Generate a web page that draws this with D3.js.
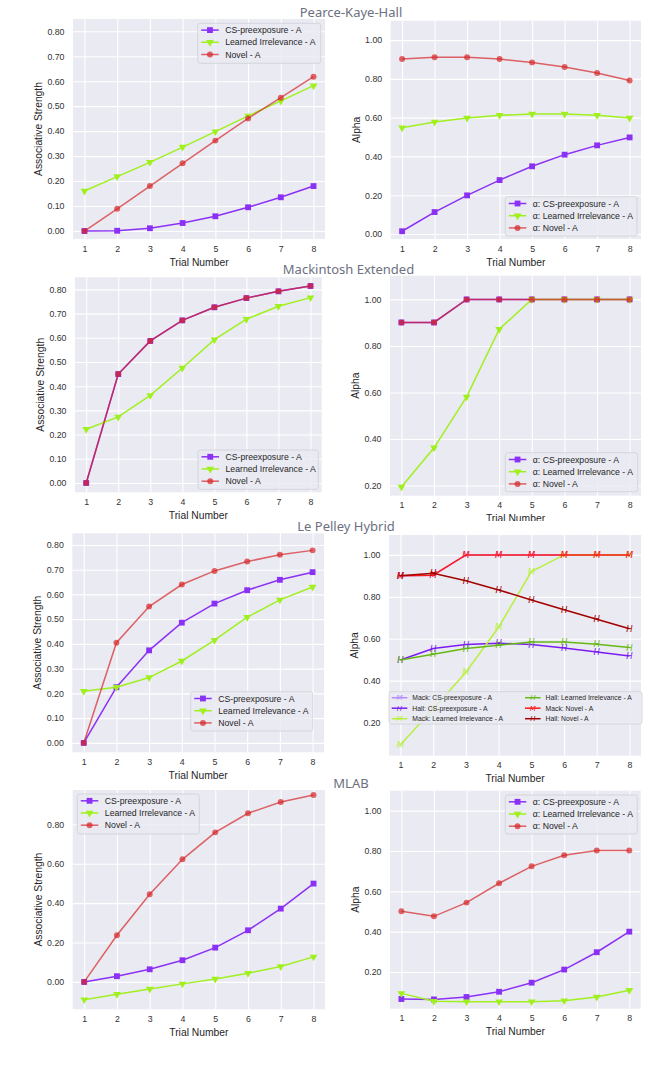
<!DOCTYPE html>
<html>
<head>
<meta charset="utf-8">
<script src="https://cdn.jsdelivr.net/npm/d3@7"></script>
<style>
  body { margin: 0; background: #fff; }
  svg text { font-family: "Liberation Sans", Arial, sans-serif; }
</style>
</head>
<body>
<svg id="chart" width="650" height="1068"></svg>
<script>
// trials on the x axis
const trials = [1, 2, 3, 4, 5, 6, 7, 8];
const groupNames = ["CS-preexposure - A", "Learned Irrelevance - A", "Novel - A"];
const alphaNames = groupNames.map(d => "α: " + d);

// tick labels
const strengthTicks = [0, 0.1, 0.2, 0.3, 0.4, 0.5, 0.6, 0.7, 0.8];
const strengthTicksWide = [0, 0.2, 0.4, 0.6, 0.8];
const alphaTicks = [0, 0.2, 0.4, 0.6, 0.8, 1.0];
const alphaTicksShort = [0.2, 0.4, 0.6, 0.8, 1.0];

// Pearce-Kaye-Hall
const pkhCs = [0, 0.001, 0.011, 0.032, 0.059, 0.095, 0.135, 0.18];
const pkhLi = [0.16, 0.218, 0.275, 0.336, 0.398, 0.461, 0.521, 0.582];
const pkhNovel = [0, 0.089, 0.18, 0.271, 0.362, 0.451, 0.534, 0.618];
const pkhAlphaCs = [0.014, 0.113, 0.199, 0.278, 0.349, 0.409, 0.457, 0.498];
const pkhAlphaLi = [0.548, 0.577, 0.598, 0.612, 0.619, 0.619, 0.612, 0.598];
const pkhAlphaNovel = [0.902, 0.911, 0.911, 0.902, 0.885, 0.861, 0.83, 0.792];

// Mackintosh Extended
const mackCs = [0, 0.45, 0.587, 0.672, 0.726, 0.764, 0.792, 0.814];
const mackLi = [0.222, 0.273, 0.362, 0.475, 0.592, 0.677, 0.73, 0.766];
const mackNovel = [0, 0.45, 0.587, 0.672, 0.726, 0.764, 0.792, 0.814];
const mackAlphaCs = [0.901, 0.901, 1, 1, 1, 1, 1, 1];
const mackAlphaLi = [0.193, 0.362, 0.581, 0.872, 1, 1, 1, 1];
const mackAlphaNovel = [0.901, 0.901, 1, 1, 1, 1, 1, 1];

// Le Pelley Hybrid
const lpCs = [0, 0.225, 0.374, 0.486, 0.563, 0.617, 0.659, 0.69];
const lpLi = [0.209, 0.225, 0.264, 0.331, 0.415, 0.508, 0.578, 0.63];
const lpNovel = [0, 0.405, 0.551, 0.64, 0.695, 0.733, 0.76, 0.778];
const lpMackCs = [0.9, 0.903, 1, 1, 1, 1, 1, 1];
const lpHallCs = [0.499, 0.553, 0.572, 0.579, 0.572, 0.556, 0.537, 0.518];
const lpMackLi = [0.094, 0.265, 0.44, 0.655, 0.92, 1, 1, 1];
const lpHallLi = [0.499, 0.526, 0.553, 0.569, 0.585, 0.584, 0.574, 0.558];
const lpMackNovel = [0.9, 0.903, 1, 1, 1, 1, 1, 1];
const lpHallNovel = [0.9, 0.913, 0.877, 0.833, 0.785, 0.738, 0.693, 0.648];
const lpAlphaNames = ["Mack: CS-preexposure - A", "Hall: CS-preexposure - A", "Mack: Learned Irrelevance - A",
                      "Hall: Learned Irrelevance - A", "Mack: Novel - A", "Hall: Novel - A"];

// MLAB
const mlabCs = [0, 0.029, 0.064, 0.11, 0.174, 0.262, 0.372, 0.499];
const mlabLi = [-0.09, -0.063, -0.036, -0.01, 0.015, 0.044, 0.078, 0.127];
const mlabNovel = [0, 0.237, 0.445, 0.622, 0.759, 0.856, 0.913, 0.949];
const mlabAlphaCs = [0.066, 0.064, 0.076, 0.102, 0.147, 0.212, 0.298, 0.4];
const mlabAlphaLi = [0.094, 0.055, 0.053, 0.053, 0.053, 0.058, 0.076, 0.109];
const mlabAlphaNovel = [0.501, 0.476, 0.544, 0.64, 0.724, 0.779, 0.803, 0.803];

const PURPLE = "#8b30f5", GREEN = "#a0f020", RED = "#d62728";

const svg = d3.select("#chart");

function three(vals, names) {
  return [
    { values: vals[0], name: names[0], color: PURPLE, marker: "square", op: 1 },
    { values: vals[1], name: names[1], color: GREEN, marker: "tri", op: 1 },
    { values: vals[2], name: names[2], color: RED, marker: "circle", op: 0.7 }
  ];
}

function drawMarker(g, type, cx, cy, color, op, fs) {
  if (type === "M" || type === "H") {
    g.append("text").attr("x", cx).attr("y", cy).attr("dy", "0.36em")
      .attr("text-anchor", "middle").attr("font-style", "italic")
      .style("font-family", "'DejaVu Sans', sans-serif").attr("font-size", fs || 8)
      .attr("fill", color).attr("fill-opacity", op).text(type);
    return;
  }
  let sym, size, rot = 0;
  if (type === "square") { sym = d3.symbolSquare; size = 34; }
  else if (type === "tri") { sym = d3.symbolTriangle; size = 26; rot = 180; }
  else { sym = d3.symbolCircle; size = 28; }
  g.append("path").attr("d", d3.symbol().type(sym).size(size)())
    .attr("transform", `translate(${cx},${cy}) rotate(${rot})`)
    .attr("fill", color).attr("fill-opacity", op);
}

function drawPanel(p) {
  const x = d3.scaleLinear().domain([0.65, 8.35]).range([p.left, p.right]);
  const y = d3.scaleLinear().domain(p.yDomain).range([p.bottom, p.top]);
  const g = svg.append("g");

  g.append("rect").attr("x", p.left).attr("y", p.top)
    .attr("width", p.right - p.left).attr("height", p.bottom - p.top).attr("fill", "#eaeaf2");

  const xa = g.append("g").attr("transform", `translate(0,${p.bottom})`)
    .call(d3.axisBottom(x).tickValues(trials).tickFormat(d3.format("d"))
      .tickSize(-(p.bottom - p.top)).tickPadding(6.5));
  const ya = g.append("g").attr("transform", `translate(${p.left},0)`)
    .call(d3.axisLeft(y).tickValues(p.yTicks).tickFormat(d3.format(".2f"))
      .tickSize(-(p.right - p.left)).tickPadding(8.5));
  [xa, ya].forEach(a => {
    a.select(".domain").remove();
    a.selectAll("line").attr("stroke", "#fff").attr("stroke-width", 1.1);
    a.selectAll("text").attr("fill", "#333").attr("font-size", 8.8)
      .style("font-family", "'Liberation Sans', Arial, sans-serif");
  });

  // axis titles
  g.append("text").attr("x", (p.left + p.right) / 2).attr("y", p.bottom + 23).attr("dy", "0.35em")
    .attr("text-anchor", "middle").attr("font-size", 10.3).attr("fill", "#262626").text("Trial Number");
  g.append("text").attr("transform", `translate(${p.left - 34.5},${(p.top + p.bottom) / 2}) rotate(-90)`)
    .attr("dy", "0.35em").attr("text-anchor", "middle").attr("font-size", 10.3).attr("fill", "#262626")
    .text(p.yLabel);

  const line = d3.line().x((d, i) => x(trials[i])).y(d => y(d));
  p.series.forEach(s => {
    const sg = g.append("g");
    sg.append("path").datum(s.values).attr("d", line).attr("fill", "none")
      .attr("stroke", s.color).attr("stroke-opacity", s.op).attr("stroke-width", 1.5);
    s.values.forEach((v, i) => drawMarker(sg, s.marker, x(trials[i]), y(v), s.color, s.op, p.markerFont));
  });

  // legend
  const L = Object.assign({ cols: [3.5], rows: 3, first: 6.8, gap: 12.2, handle: 17.5, textGap: 24, font: 8.7 }, p.legend);
  const lg = g.append("g");
  lg.append("rect").attr("x", L.x).attr("y", L.y).attr("width", L.w).attr("height", L.h)
    .attr("rx", 2.5).attr("fill", "#eaeaf2").attr("fill-opacity", 0.8)
    .attr("stroke", "#cfcfd6").attr("stroke-width", 0.8);
  p.series.forEach((s, i) => {
    const col = Math.floor(i / L.rows), row = i % L.rows;
    const hx = L.x + L.cols[col], hy = L.y + L.first + row * L.gap;
    lg.append("line").attr("x1", hx).attr("x2", hx + L.handle).attr("y1", hy).attr("y2", hy)
      .attr("stroke", s.color).attr("stroke-opacity", s.op).attr("stroke-width", 1.5);
    drawMarker(lg, s.marker, hx + L.handle / 2, hy, s.color, s.op, L.markerFont);
    lg.append("text").attr("x", hx + L.textGap).attr("y", hy).attr("dy", "0.35em")
      .attr("font-size", L.font).attr("fill", "#262626").text(s.name);
  });
}

function title(text, cx, cy) {
  svg.append("text").attr("x", cx).attr("y", cy).attr("dy", "0.35em").attr("text-anchor", "middle")
    .style("font-family", "'Noto Sans', sans-serif").attr("font-size", 13).attr("fill", "#6c7080").text(text);
}

// Pearce-Kaye-Hall
drawPanel({ left: 73, right: 325, top: 19, bottom: 239, yDomain: [-0.032, 0.849], yTicks: strengthTicks,
  yLabel: "Associative Strength", series: three([pkhCs, pkhLi, pkhNovel], groupNames),
  legend: { x: 197.7, y: 23.3, w: 123, h: 40 } });
drawPanel({ left: 390.7, right: 641, top: 20.7, bottom: 239, yDomain: [-0.026, 1.1], yTicks: alphaTicks,
  yLabel: "Alpha", series: three([pkhAlphaCs, pkhAlphaLi, pkhAlphaNovel], alphaNames),
  legend: { x: 505.3, y: 196.7, w: 131.7, h: 39.3 } });
title("Pearce-Kaye-Hall", 351, 12);

// Mackintosh Extended
drawPanel({ left: 75, right: 321.7, top: 277.3, bottom: 492.3, yDomain: [-0.0386, 0.85], yTicks: strengthTicks,
  yLabel: "Associative Strength", series: three([mackCs, mackLi, mackNovel], groupNames),
  legend: { x: 198, y: 450, w: 120.3, h: 39.3 } });
drawPanel({ left: 390, right: 641, top: 275.7, bottom: 495.7, yDomain: [0.156, 1.102], yTicks: alphaTicksShort,
  yLabel: "Alpha", series: three([mackAlphaCs, mackAlphaLi, mackAlphaNovel], alphaNames),
  legend: { x: 505.3, y: 452.7, w: 132.4, h: 39 } });
title("Mackintosh Extended", 348.5, 269);

// cut band between screenshots
svg.append("rect").attr("x", 0).attr("y", 521).attr("width", 650).attr("height", 11).attr("fill", "#fff");

// Le Pelley Hybrid
drawPanel({ left: 72.3, right: 324, top: 533.3, bottom: 752.3, yDomain: [-0.038, 0.847], yTicks: strengthTicks,
  yLabel: "Associative Strength", series: three([lpCs, lpLi, lpNovel], groupNames),
  legend: { x: 190.7, y: 691.7, w: 122, h: 39.3 } });
const lpColors = ["#b58cff", "#7a1cf0", "#b8f040", "#66b814", "#ff1a1a", "#a30000"];
const lpValues = [lpMackCs, lpHallCs, lpMackLi, lpHallLi, lpMackNovel, lpHallNovel];
drawPanel({ left: 389, right: 641, top: 535, bottom: 755.7, yDomain: [0.042, 1.095], yTicks: alphaTicksShort,
  yLabel: "Alpha", markerFont: 8.5,
  series: lpValues.map((v, i) => ({ values: v, name: lpAlphaNames[i], color: lpColors[i],
    marker: lpAlphaNames[i].startsWith("Mack") ? "M" : "H", op: 1 })),
  legend: { x: 389, y: 691.7, w: 253, h: 32.3, cols: [2.7, 136], first: 6, gap: 10.5,
    handle: 15.6, textGap: 20.6, font: 6.8, markerFont: 7 } });
title("Le Pelley Hybrid", 346, 526);

// MLAB
drawPanel({ left: 72.7, right: 325, top: 790, bottom: 1009.3, yDomain: [-0.139, 0.974], yTicks: strengthTicksWide,
  yLabel: "Associative Strength", series: three([mlabCs, mlabLi, mlabNovel], groupNames),
  legend: { x: 77.3, y: 794, w: 122, h: 40 } });
drawPanel({ left: 390, right: 640.7, top: 790.7, bottom: 1008.7, yDomain: [0.018, 1.099], yTicks: alphaTicksShort,
  yLabel: "Alpha", series: three([mlabAlphaCs, mlabAlphaLi, mlabAlphaNovel], alphaNames),
  legend: { x: 505.3, y: 795, w: 132, h: 39 } });
title("MLAB", 351, 783);
</script>
</body>
</html>
